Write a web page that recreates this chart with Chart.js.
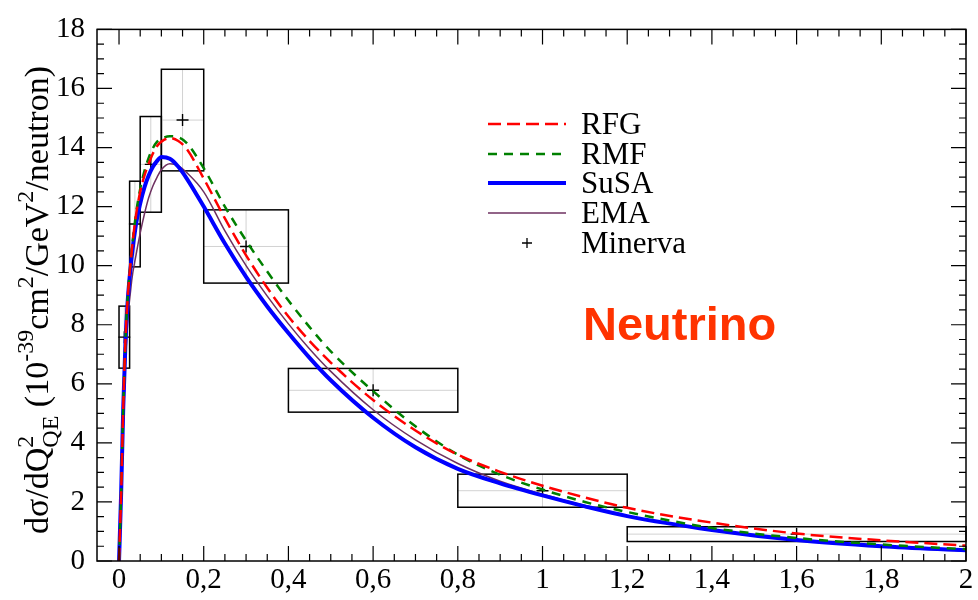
<!DOCTYPE html>
<html>
<head>
<meta charset="utf-8">
<script src="https://cdn.jsdelivr.net/npm/chart.js@4.4.1/dist/chart.umd.min.js"></script>
<style>
  html, body { margin: 0; padding: 0; background: #fff; }
  #wrap { width: 978px; height: 600px; }
</style>
</head>
<body>
<div id="wrap"><canvas id="chart" width="978" height="600"></canvas></div>
<script>
// Q2_QE grid (GeV^2) for the model curves
const qGrid = [0, 0.005, 0.01, 0.015, 0.02, 0.03, 0.04, 0.05, 0.06, 0.07, 0.08, 0.09, 0.1, 0.12, 0.14, 0.16,
  0.2, 0.25, 0.3, 0.35, 0.4, 0.45, 0.5, 0.6, 0.7, 0.8, 0.9, 1.0, 1.1, 1.2, 1.4, 1.6, 1.8, 2.0];

// model curves, dsigma/dQ2 (10^-39 cm2/GeV2/neutron)
const rfgXS = [0, 2.3, 5.2, 7.4, 8.8, 10.5, 11.7, 12.5, 13.05, 13.45, 13.8, 14.05, 14.2, 14.32, 14.22, 13.95,
  12.95, 11.6, 10.35, 9.25, 8.28, 7.45, 6.72, 5.45, 4.42, 3.6, 3.02, 2.55, 2.15, 1.8, 1.3, 0.93, 0.7, 0.52];
const rmfXS = [0, 2.3, 5.2, 7.4, 8.8, 10.5, 11.75, 12.6, 13.2, 13.65, 13.98, 14.2, 14.3, 14.38, 14.35, 14.15,
  13.3, 12.0, 10.85, 9.8, 8.82, 7.92, 7.1, 5.75, 4.56, 3.6, 2.92, 2.42, 2.0, 1.66, 1.12, 0.78, 0.56, 0.4];
const susaXS = [0, 2.3, 5.2, 7.3, 8.7, 10.3, 11.4, 12.1, 12.65, 13.05, 13.35, 13.55, 13.68, 13.62, 13.35, 12.95,
  12.0, 10.75, 9.62, 8.62, 7.72, 6.88, 6.12, 4.85, 3.85, 3.12, 2.63, 2.22, 1.85, 1.52, 1.05, 0.71, 0.5, 0.36];
const emaXS = [0, 1.8, 4.5, 6.6, 8.0, 9.5, 10.35, 11.1, 11.75, 12.3, 12.7, 13.0, 13.25, 13.45, 13.38, 13.15,
  12.5, 11.18, 10.0, 8.97, 8.03, 7.18, 6.42, 5.12, 4.1, 3.3, 2.7, 2.26, 1.88, 1.52, 1.03, 0.7, 0.48, 0.33];

// Minerva data: bins, points and errors
const binEdges = [0, 0.025, 0.05, 0.1, 0.2, 0.4, 0.8, 1.2, 2.0];
const minervaQ = [0.0125, 0.0375, 0.075, 0.15, 0.3, 0.6, 1.0, 1.6];
const minervaXS = [7.58, 11.41, 13.43, 14.93, 10.65, 5.78, 2.38, 0.91];
const minervaErr = [1.05, 1.45, 1.62, 1.72, 1.24, 0.74, 0.56, 0.25];

// axes
const xTicks = [0, 0.2, 0.4, 0.6, 0.8, 1, 1.2, 1.4, 1.6, 1.8, 2];
const xTickLabels = ['0', '0,2', '0,4', '0,6', '0,8', '1', '1,2', '1,4', '1,6', '1,8', '2'];
const yTicks = [0, 2, 4, 6, 8, 10, 12, 14, 16, 18];
const seriesNames = ['RFG', 'RMF', 'SuSA', 'EMA', 'Minerva'];

const serif = '"Liberation Serif", "DejaVu Serif", serif';

function pts(ys) {
  return qGrid.map((q, i) => ({ x: q, y: ys[i] }));
}

// frame with inward ticks, like the original plot
const framePlugin = {
  id: 'frame',
  afterDatasetsDraw(chart) {
    const { ctx, chartArea: a, scales: { x, y } } = chart;
    ctx.save();
    ctx.strokeStyle = '#000';
    ctx.lineWidth = 1.5;
    ctx.strokeRect(a.left, a.top, a.right - a.left, a.bottom - a.top);
    ctx.lineWidth = 1.2;
    ctx.beginPath();
    for (let i = 0; i <= 40; i++) {
      const v = i * 0.05;
      const px = x.getPixelForValue(v);
      const len = (i % 4 === 0) ? 15 : 7;
      ctx.moveTo(px, a.bottom); ctx.lineTo(px, a.bottom - len);
      ctx.moveTo(px, a.top); ctx.lineTo(px, a.top + len);
    }
    for (let i = 0; i <= 36; i++) {
      const v = i * 0.5;
      const py = y.getPixelForValue(v);
      const len = (i % 4 === 0) ? 15 : 7;
      ctx.moveTo(a.left, py); ctx.lineTo(a.left + len, py);
      ctx.moveTo(a.right, py); ctx.lineTo(a.right - len, py);
    }
    ctx.stroke();
    ctx.restore();
  }
};

// Minerva bin boxes with light error cross
const boxPlugin = {
  id: 'boxes',
  beforeDatasetsDraw(chart) {
    const { ctx, scales: { x, y } } = chart;
    ctx.save();
    minervaQ.forEach((q, i) => {
      const x0 = x.getPixelForValue(binEdges[i]);
      const x1 = x.getPixelForValue(binEdges[i + 1]);
      const y0 = y.getPixelForValue(minervaXS[i] + minervaErr[i]);
      const y1 = y.getPixelForValue(minervaXS[i] - minervaErr[i]);
      const xc = x.getPixelForValue(q);
      const yc = y.getPixelForValue(minervaXS[i]);
      ctx.strokeStyle = '#d2d2d2';
      ctx.lineWidth = 1;
      ctx.beginPath();
      ctx.moveTo(x0, yc); ctx.lineTo(x1, yc);
      ctx.moveTo(xc, y0); ctx.lineTo(xc, y1);
      ctx.stroke();
      ctx.strokeStyle = '#000';
      ctx.lineWidth = 1.5;
      ctx.strokeRect(x0, y0, x1 - x0, y1 - y0);
    });
    ctx.restore();
  }
};

// legend, y title and "Neutrino" label
const textPlugin = {
  id: 'texts',
  afterDraw(chart) {
    const ctx = chart.ctx;
    ctx.save();
    // legend
    const lx0 = 488, lx1 = 566, tx = 581;
    const rows = [124, 154, 183, 213, 243];
    ctx.font = '31px ' + serif;
    ctx.textBaseline = 'middle';
    ctx.fillStyle = '#000';
    seriesNames.forEach((name, i) => {
      const ds = chart.data.datasets[i];
      const yy = rows[i];
      if (i < 4) {
        ctx.strokeStyle = ds.borderColor;
        ctx.lineWidth = ds.borderWidth;
        ctx.setLineDash(ds.borderDash || []);
        ctx.beginPath();
        ctx.moveTo(lx0, yy); ctx.lineTo(lx1, yy);
        ctx.stroke();
        ctx.setLineDash([]);
      } else {
        ctx.strokeStyle = '#000';
        ctx.lineWidth = 1.3;
        ctx.beginPath();
        ctx.moveTo(527 - 5, yy); ctx.lineTo(527 + 5, yy);
        ctx.moveTo(527, yy - 5); ctx.lineTo(527, yy + 5);
        ctx.stroke();
      }
      ctx.fillText(name, tx, yy + 2);
    });

    // Neutrino
    ctx.font = 'bold 47px "Liberation Sans", Arial, sans-serif';
    ctx.fillStyle = '#ff3300';
    ctx.textBaseline = 'alphabetic';
    ctx.fillText('Neutrino', 583, 340);

    // y-axis title with super/subscripts
    const base = 34;
    const segs = [
      { t: 'dσ/dQ' }, { sup: '2', sub: 'QE' }, { t: ' (10' }, { sup: '-39' }, { t: 'cm' }, { sup: '2' },
      { t: '/GeV' }, { sup: '2' }, { t: '/neutron)' }
    ];
    const small = Math.round(base * 0.72);
    const fBig = base + 'px ' + serif, fSmall = small + 'px ' + serif;
    const widths = segs.map(s => {
      if (s.t) { ctx.font = fBig; return ctx.measureText(s.t).width; }
      ctx.font = fSmall;
      return Math.max(s.sup ? ctx.measureText(s.sup).width : 0, s.sub ? ctx.measureText(s.sub).width : 0);
    });
    const total = widths.reduce((a, b) => a + b, 0);
    ctx.translate(48, 300);
    ctx.rotate(-Math.PI / 2);
    ctx.fillStyle = '#000';
    ctx.textBaseline = 'alphabetic';
    let cx = -total / 2;
    segs.forEach((s, i) => {
      if (s.t) { ctx.font = fBig; ctx.fillText(s.t, cx, 0); }
      else {
        ctx.font = fSmall;
        if (s.sup) ctx.fillText(s.sup, cx, -base * 0.45);
        if (s.sub) ctx.fillText(s.sub, cx, base * 0.3);
      }
      cx += widths[i];
    });
    ctx.restore();
  }
};

const ctx = document.getElementById('chart').getContext('2d');
new Chart(ctx, {
  type: 'line',
  data: {
    datasets: [
      { label: seriesNames[0], data: pts(rfgXS), borderColor: '#ff0000', borderWidth: 2.5, borderDash: [13, 6] },
      { label: seriesNames[1], data: pts(rmfXS), borderColor: '#008000', borderWidth: 2.5, borderDash: [9, 7] },
      { label: seriesNames[2], data: pts(susaXS), borderColor: '#0000ff', borderWidth: 4 },
      { label: seriesNames[3], data: pts(emaXS), borderColor: '#6e3060', borderWidth: 1.5 },
      {
        label: seriesNames[4], data: minervaQ.map((q, i) => ({ x: q, y: minervaXS[i] })),
        showLine: false, pointStyle: 'cross', pointRadius: 6, borderColor: '#000', borderWidth: 1.4
      }
    ].map(ds => Object.assign({ fill: false, pointRadius: 0, cubicInterpolationMode: 'monotone' }, ds))
  },
  options: {
    responsive: false,
    animation: false,
    layout: { padding: { top: 21, right: 12, left: 0, bottom: 0 } },
    plugins: { legend: { display: false }, tooltip: { enabled: false } },
    scales: {
      x: {
        type: 'linear', min: -0.052, max: 2,
        grid: { display: false, drawTicks: false },
        border: { display: false },
        afterBuildTicks: s => { s.ticks = xTicks.map(v => ({ value: v })); },
        afterFit: s => { s.height = 39; },
        ticks: {
          padding: 2, color: '#000', font: { family: serif, size: 29 },
          callback: (v) => xTickLabels[xTicks.findIndex(t => Math.abs(t - v) < 1e-6)]
        }
      },
      y: {
        min: 0, max: 18,
        grid: { display: false, drawTicks: false },
        border: { display: false },
        afterBuildTicks: s => { s.ticks = yTicks.map(v => ({ value: v })); },
        afterFit: s => { s.width = 97; },
        ticks: { padding: 12, color: '#000', font: { family: serif, size: 29 } }
      }
    }
  },
  plugins: [boxPlugin, framePlugin, textPlugin]
});
</script>
</body>
</html>
